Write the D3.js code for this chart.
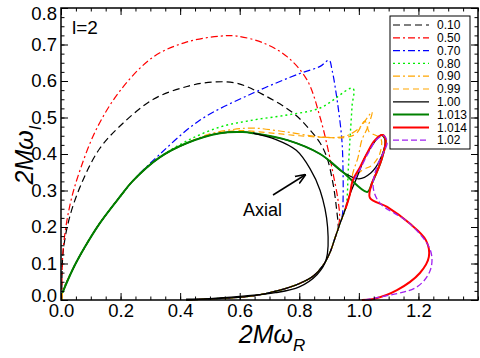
<!DOCTYPE html>
<html>
<head>
<meta charset="utf-8">
<script src="https://cdn.jsdelivr.net/npm/d3@7"></script>
<style>
  body { margin: 0; background: #fff; }
  svg { display: block; }
</style>
</head>
<body>
<svg id="chart" width="480" height="358"></svg>
<script>
// values, [2M wR, 2M wI]
const labels = ["0.10", "0.50", "0.70", "0.80", "0.90", "0.99", "1.00", "1.013", "1.014", "1.02"];

const s010 = [[0.003,0.0],[0.007,0.13],[0.03,0.23],[0.074,0.329],[0.13,0.415],[0.2,0.478],[0.31,0.55],[0.423,0.585],[0.51,0.597],[0.59,0.594],[0.68,0.562],[0.78,0.512],[0.836,0.466],[0.87,0.43],[0.893,0.39],[0.913,0.32],[0.925,0.25],[0.93,0.19],[0.92,0.17],[0.903,0.13],[0.88,0.095],[0.846,0.065],[0.8,0.045],[0.735,0.027],[0.65,0.012],[0.55,0.005],[0.42,0.0]];
const s050 = [[0.003,0.0],[0.007,0.137],[0.03,0.26],[0.064,0.356],[0.12,0.47],[0.2,0.575],[0.31,0.666],[0.423,0.707],[0.534,0.723],[0.59,0.723],[0.68,0.704],[0.76,0.666],[0.826,0.603],[0.87,0.5],[0.9,0.4],[0.913,0.348],[0.93,0.274],[0.935,0.22],[0.92,0.17],[0.903,0.13],[0.88,0.095],[0.846,0.065],[0.8,0.045],[0.735,0.027],[0.65,0.012],[0.55,0.005],[0.42,0.0]];
const s070 = [[0.003,0.0],[0.005,0.02],[0.04,0.085],[0.08,0.145],[0.13,0.21],[0.2,0.285],[0.242,0.327],[0.33,0.398],[0.467,0.493],[0.645,0.567],[0.8,0.62],[0.87,0.64],[0.9,0.657],[0.91,0.63],[0.927,0.548],[0.943,0.438],[0.947,0.348],[0.947,0.274],[0.945,0.235],[0.937,0.21],[0.92,0.17],[0.903,0.13],[0.88,0.095],[0.846,0.065],[0.8,0.045],[0.735,0.027],[0.65,0.012],[0.55,0.005],[0.42,0.0]];
const s080 = [[0.003,0.0],[0.005,0.02],[0.04,0.085],[0.08,0.145],[0.13,0.21],[0.2,0.285],[0.242,0.327],[0.33,0.39],[0.423,0.436],[0.534,0.474],[0.645,0.493],[0.76,0.507],[0.87,0.526],[0.98,0.58],[0.977,0.53],[0.97,0.438],[0.964,0.348],[0.96,0.274],[0.955,0.25],[0.937,0.21],[0.92,0.17],[0.903,0.13],[0.88,0.095],[0.846,0.065],[0.8,0.045],[0.735,0.027],[0.65,0.012],[0.55,0.005],[0.42,0.0]];
const s090 = [[0.003,0.0],[0.005,0.02],[0.04,0.085],[0.08,0.145],[0.13,0.21],[0.2,0.285],[0.242,0.327],[0.33,0.39],[0.423,0.43],[0.5,0.455],[0.567,0.466],[0.645,0.471],[0.76,0.46],[0.87,0.447],[0.95,0.448],[1.0,0.47],[1.044,0.515],[1.03,0.474],[1.01,0.438],[0.997,0.39],[0.98,0.348],[0.97,0.29],[0.955,0.25],[0.937,0.21],[0.92,0.17],[0.903,0.13],[0.88,0.095],[0.846,0.065],[0.8,0.045],[0.735,0.027],[0.65,0.012],[0.55,0.005],[0.42,0.0]];
const s099 = [[0.003,0.0],[0.005,0.02],[0.04,0.085],[0.08,0.145],[0.13,0.21],[0.2,0.285],[0.242,0.327],[0.33,0.39],[0.423,0.43],[0.534,0.458],[0.6,0.464],[0.7,0.458],[0.8,0.45],[0.9,0.445],[0.95,0.445],[0.99,0.455],[1.02,0.49],[1.035,0.46],[1.06,0.45],[1.075,0.44],[1.07,0.4],[1.045,0.37],[1.01,0.355],[0.985,0.335],[0.97,0.29],[0.955,0.25],[0.937,0.21],[0.92,0.17],[0.903,0.13],[0.88,0.095],[0.846,0.065],[0.8,0.045],[0.735,0.027],[0.65,0.012],[0.55,0.005],[0.42,0.0]];
const s100 = [[0.005,0.02],[0.04,0.085],[0.08,0.145],[0.13,0.21],[0.2,0.285],[0.242,0.327],[0.33,0.39],[0.423,0.43],[0.534,0.457],[0.61,0.46],[0.645,0.457],[0.76,0.438],[0.87,0.40],[0.947,0.35],[1.0,0.332],[1.04,0.348],[1.071,0.384],[1.088,0.438],[1.075,0.452],[1.05,0.43],[1.02,0.39],[0.994,0.337],[0.97,0.29],[0.955,0.25],[0.937,0.21],[0.92,0.17],[0.903,0.13],[0.88,0.095],[0.846,0.065],[0.8,0.045],[0.735,0.027],[0.65,0.012],[0.55,0.005],[0.42,0.0]];
const s1013 = [[0.005,0.02],[0.04,0.085],[0.08,0.145],[0.13,0.21],[0.2,0.285],[0.242,0.327],[0.33,0.39],[0.423,0.43],[0.534,0.457],[0.61,0.46],[0.645,0.457],[0.76,0.438],[0.87,0.40],[0.947,0.35],[1.028,0.296],[1.044,0.32],[1.06,0.35],[1.078,0.39],[1.09,0.438],[1.08,0.452]];
const s1014 = [[1.01,0.0],[1.05,0.003],[1.128,0.027],[1.205,0.074],[1.235,0.118],[1.225,0.164],[1.17,0.21],[1.095,0.255],[1.037,0.28],[1.044,0.32],[1.06,0.35],[1.078,0.39],[1.09,0.438],[1.08,0.452],[1.054,0.438],[1.028,0.403],[1.004,0.364],[0.98,0.329],[0.97,0.29],[0.955,0.25]];
const s102 = [[1.02,0.0],[1.07,0.008],[1.195,0.036],[1.24,0.082],[1.24,0.137],[1.17,0.21],[1.07,0.266],[1.048,0.31],[1.06,0.364],[1.08,0.40],[1.095,0.43],[1.085,0.45],[1.06,0.44],[1.03,0.40],[1.005,0.36],[0.985,0.33]];
const axial = [[0.645,0.457],[0.72,0.44],[0.79,0.41],[0.836,0.36],[0.87,0.30],[0.895,0.20],[0.89,0.11],[0.86,0.07],[0.8,0.036],[0.72,0.02],[0.6,0.01],[0.5,0.004],[0.42,0.002]];

const seriesData = [s010, s050, s070, s080, s090, s099, s100, s1013, s1014, s102];
const colors = ["#000000", "#ff0000", "#0000ff", "#00ee00", "#ffa500", "#ffa500", "#000000", "#008000", "#ff0000", "#a020f0"];
const dashes = ["7,4", "7,3,2,3", "7,3,2,3", "2,3", "7,3,2,3", "6,4", null, null, null, "6,3"];
const widths = [1.2, 1.2, 1.2, 1.4, 1.2, 1.2, 1.3, 2, 2, 1.3];

const xTicks = [0, 0.2, 0.4, 0.6, 0.8, 1.0, 1.2];
const yTicks = [0, 0.1, 0.2, 0.3, 0.4, 0.5, 0.6, 0.7, 0.8];

const svg = d3.select("#chart");
const x = d3.scaleLinear().domain([0, 1.4]).range([61, 478]);
const y = d3.scaleLinear().domain([0, 0.8]).range([300, 8]);
const font = "'Liberation Sans', Arial, sans-serif";

// curves
const line = d3.line().x(d => x(d[0])).y(d => y(d[1])).curve(d3.curveCatmullRom.alpha(0.5));
seriesData.forEach((data, i) => {
  svg.append("path")
    .datum(data)
    .attr("fill", "none")
    .attr("stroke", colors[i])
    .attr("stroke-width", widths[i])
    .attr("stroke-dasharray", dashes[i])
    .attr("stroke-linejoin", "round")
    .attr("d", line);
});
svg.append("path")
  .datum(axial)
  .attr("fill", "none")
  .attr("stroke", "#000")
  .attr("stroke-width", 1.3)
  .attr("d", line);

// frame + inward ticks
const minorX = d3.range(0, 1.4001, 0.05);
const minorY = d3.range(0, 0.8001, 0.025);
function ticks(g, axis) {
  g.call(axis);
  g.select(".domain").remove();
  g.selectAll("line").attr("stroke", "#000").attr("stroke-width", 1);
}
svg.append("g").attr("transform", "translate(0,300)")
  .call(ticks, d3.axisBottom(x).tickValues(minorX).tickSize(-3.5).tickFormat(""));
svg.append("g").attr("transform", "translate(0,8)")
  .call(ticks, d3.axisTop(x).tickValues(minorX).tickSize(-3.5).tickFormat(""));
svg.append("g").attr("transform", "translate(61,0)")
  .call(ticks, d3.axisLeft(y).tickValues(minorY).tickSize(-3.5).tickFormat(""));
svg.append("g").attr("transform", "translate(478,0)")
  .call(ticks, d3.axisRight(y).tickValues(minorY).tickSize(-3.5).tickFormat(""));

const xb = svg.append("g").attr("transform", "translate(0,300)")
  .call(ticks, d3.axisBottom(x).tickValues(xTicks).tickSize(-7).tickPadding(4).tickFormat(d3.format(".1f")));
svg.append("g").attr("transform", "translate(0,8)")
  .call(ticks, d3.axisTop(x).tickValues(xTicks).tickSize(-7).tickFormat(""));
const yl = svg.append("g").attr("transform", "translate(61,0)")
  .call(ticks, d3.axisLeft(y).tickValues(yTicks).tickSize(-7).tickPadding(4).tickFormat(d3.format(".1f")));
svg.append("g").attr("transform", "translate(478,0)")
  .call(ticks, d3.axisRight(y).tickValues(yTicks).tickSize(-7).tickFormat(""));

svg.selectAll("g text").attr("font-family", font).attr("font-size", 18.5).attr("fill", "#000");
xb.selectAll("text").attr("dy", "0.71em");
yl.selectAll("text").filter(d => d === 0.8).attr("dy", "0.62em");
yl.selectAll("text").filter(d => d === 0).attr("dy", "0.1em");

svg.append("rect")
  .attr("x", 61).attr("y", 8).attr("width", 417).attr("height", 292)
  .attr("fill", "none").attr("stroke", "#000").attr("stroke-width", 1.5);

// axis titles
const xt = svg.append("text").attr("x", 272).attr("y", 343).attr("text-anchor", "middle")
  .attr("font-family", font).attr("font-size", 25).attr("font-style", "italic");
xt.append("tspan").text("2M\u03c9");
xt.append("tspan").attr("font-size", 17).attr("dy", 8).text("R");

const yt = svg.append("text").attr("transform", "translate(33,155) rotate(-90)").attr("text-anchor", "middle")
  .attr("font-family", font).attr("font-size", 25).attr("font-style", "italic");
yt.append("tspan").text("2M\u03c9");
yt.append("tspan").attr("font-size", 17).attr("dy", 8).text("I");

svg.append("text").attr("x", 72).attr("y", 34)
  .attr("font-family", font).attr("font-size", 19).text("l=2");

// Axial annotation
svg.append("defs").append("marker")
  .attr("id", "arrow").attr("viewBox", "0 0 10 10").attr("refX", 9).attr("refY", 5)
  .attr("markerWidth", 7).attr("markerHeight", 7).attr("orient", "auto")
  .append("path").attr("d", "M0,1 L10,5 L0,9").attr("fill", "none").attr("stroke", "#000").attr("stroke-width", 1.5);
svg.append("line")
  .attr("x1", 273).attr("y1", 195).attr("x2", 305).attr("y2", 175)
  .attr("stroke", "#000").attr("stroke-width", 1.5).attr("marker-end", "url(#arrow)");
svg.append("text").attr("x", 243).attr("y", 216)
  .attr("font-family", font).attr("font-size", 18).text("Axial");

// legend
const leg = svg.append("g");
leg.append("rect").attr("x", 390).attr("y", 16).attr("width", 80).attr("height", 133)
  .attr("fill", "#fff").attr("stroke", "#000").attr("stroke-width", 1);
labels.forEach((lab, i) => {
  const ly = 25 + i * 12.8;
  leg.append("line").attr("x1", 393).attr("x2", 429).attr("y1", ly).attr("y2", ly)
    .attr("stroke", colors[i]).attr("stroke-width", widths[i])
    .attr("stroke-dasharray", dashes[i]);
  leg.append("text").attr("x", 437).attr("y", ly).attr("dy", "0.35em")
    .attr("font-family", font).attr("font-size", 12).text(lab);
});
</script>
</body>
</html>
